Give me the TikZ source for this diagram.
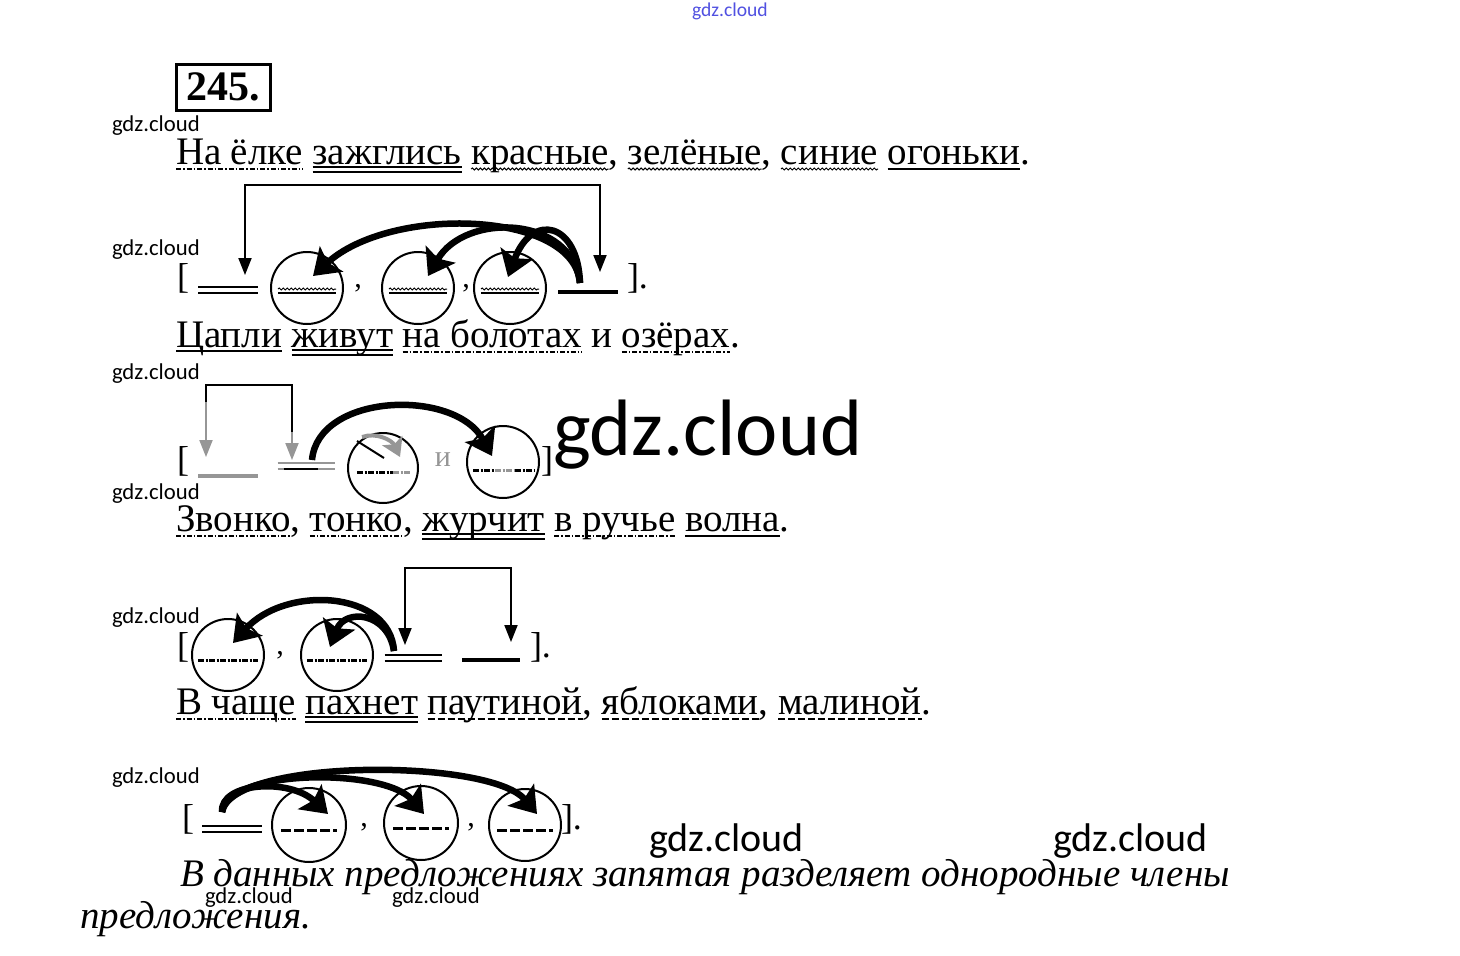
\documentclass[tikz,border=0pt]{standalone}
\usepackage{fontspec}
\setmainfont{Liberation Serif}
\newfontfamily\wmfont{Carlito}
\usetikzlibrary{arrows.meta,decorations.pathmorphing,calc}
\definecolor{wg}{RGB}{150,150,150}
\definecolor{wmblue}{RGB}{80,80,225}
\begin{document}
\begin{tikzpicture}[x=1pt,y=-1pt,
  w/.style={inner sep=0pt,outer sep=0pt,anchor=base west,font=\fontsize{39}{44}\selectfont},
  bk/.style={inner sep=0pt,outer sep=0pt,anchor=base west,font=\fontsize{36}{40}\selectfont},
  pn/.style={inner sep=0pt,outer sep=0pt,font=\fontsize{30}{34}\selectfont},
  wm/.style={inner sep=0pt,outer sep=0pt,anchor=base west,font=\wmfont\fontsize{22.7}{26}\selectfont},
  concl/.style={inner sep=0pt,outer sep=0pt,anchor=base west,font=\itshape\fontsize{39}{44}\selectfont},
  sym/.style={inner sep=0pt,outer sep=0pt,minimum height=6pt,minimum width=60pt},
  cir/.style={circle,draw,line width=2pt,inner sep=0pt,minimum size=72pt},
  sl/.style={line width=2.4pt},
  ssym/.style={line width=4.5pt},
  pl/.style={line width=1.8pt},
  attr/.style={line width=1pt,decorate,decoration={snake,amplitude=1pt,segment length=4pt}},
  adv/.style={line width=2.2pt,dash pattern=on 5pt off 2pt on 1.5pt off 2pt},
  cadv/.style={line width=3pt,dash pattern=on 6pt off 1.5pt on 2pt off 1.5pt},
  obj/.style={line width=2.4pt,dash pattern=on 7pt off 3pt},
  brk/.style={line width=2pt,{Triangle[length=17pt,width=13pt]}-{Triangle[length=17pt,width=13pt]}},
  tharr/.style={line width=6.5pt,-{Stealth[length=25pt,width=34pt,inset=5pt]}},
]
\useasboundingbox[fill=white] (0,0) rectangle (1460,956);

% watermarks
\node[wm,text=wmblue,font=\wmfont\fontsize{19.6}{22}\selectfont] (wm0) at (692,16) {gdz.cloud};
\node[wm] (wm1) at (112,131) {gdz.cloud};
\node[wm] (wm2) at (112,255) {gdz.cloud};
\node[wm] (wm3) at (112,379) {gdz.cloud};
\node[wm] (wm4) at (112,499) {gdz.cloud};
\node[wm] (wm5) at (112,623) {gdz.cloud};
\node[wm] (wm6) at (112,783) {gdz.cloud};
\node[wm] (wm7) at (205,903) {gdz.cloud};
\node[wm] (wm8) at (392,903) {gdz.cloud};
\node[wm,font=\wmfont\fontsize{40}{44}\selectfont] (wm9) at (649,851) {gdz.cloud};
\node[wm,font=\wmfont\fontsize{40}{44}\selectfont] (wm10) at (1053,851) {gdz.cloud};
\node[wm,font=\wmfont\fontsize{80}{88}\selectfont] (wmbig) at (553,455) {gdz.cloud};

% number
\node[draw,line width=3pt,inner sep=0pt,minimum width=94pt,minimum height=46pt,
      font=\bfseries\fontsize{42}{46}\selectfont] (num) at (223,87) {245.};

% ---------- sentence 1
\node[w] (a1) at (176,164) {На};
\node[w] (a2) at ([xshift=9.5pt]a1.base east) {ёлке};
\node[w] (a3) at ([xshift=9.5pt]a2.base east) {зажглись};
\node[w] (a4) at ([xshift=9.5pt]a3.base east) {красные};
\node[w] (a4c) at (a4.base east) {,};
\node[w] (a5) at ([xshift=9.5pt]a4c.base east) {зелёные};
\node[w] (a5c) at (a5.base east) {,};
\node[w] (a6) at ([xshift=9.5pt]a5c.base east) {синие};
\node[w] (a7) at ([xshift=9.5pt]a6.base east) {огоньки};
\node[w] (a7p) at (a7.base east) {.};
\draw[adv] ([yshift=-5pt]a1.base west) -- ([yshift=-5pt]a2.base east);
\draw[pl] ([yshift=-3pt]a3.base west) -- ([yshift=-3pt]a3.base east)
          ([yshift=-8pt]a3.base west) -- ([yshift=-8pt]a3.base east);
\draw[attr] ([yshift=-5pt]a4.base west) -- ([yshift=-5pt]a4.base east);
\draw[attr] ([yshift=-5pt]a5.base west) -- ([yshift=-5pt]a5.base east);
\draw[attr] ([yshift=-5pt]a6.base west) -- ([yshift=-5pt]a6.base east);
\draw[sl] ([yshift=-5pt]a7.base west) -- ([yshift=-5pt]a7.base east);

% ---------- scheme 1
\node[bk] (b1l) at (177,288) {[};
\node[sym] (p1) at (228,290) {};
\draw[pl] (p1.north west) -- (p1.north east) (p1.south west) -- (p1.south east);
\node[cir] (c11) at (307,288) {};
\node[pn] (k11) at (358,288) {,};
\node[cir] (c12) at (418,288) {};
\node[pn] (k12) at (466,288) {,};
\node[cir] (c13) at (510,288) {};
\node[sym] (s1) at (588,292) {};
\draw[ssym] (s1.west) -- (s1.east);
\node[bk] (b1r) at (627,288) {].};
\foreach \c in {c11,c12,c13}{
  \draw[attr] ([xshift=-29pt,yshift=-1pt]\c.center) -- ([xshift=29pt,yshift=-1pt]\c.center);
  \draw[line width=2pt] ([xshift=-29pt,yshift=-5pt]\c.center) -- ([xshift=29pt,yshift=-5pt]\c.center);
}
\coordinate (k1a) at ([xshift=17pt,yshift=12pt]p1.north);
\coordinate (k1b) at ([xshift=12pt,yshift=17pt]s1.north);
\draw[brk] (k1a) -- ++(0,-90) -| (k1b);
\coordinate (t1) at ([xshift=-8pt,yshift=6pt]s1.north);
\draw[tharr] (t1) .. controls (574,210) and (390,205) .. (313,276);
\draw[tharr] (t1) .. controls (572,215) and (465,212) .. (428,276);
\draw[tharr] (t1) .. controls (578,222) and (532,212) .. (508,277);

% ---------- sentence 2
\node[w] (b1) at (176,347) {Цапли};
\node[w] (b2) at ([xshift=9.5pt]b1.base east) {живут};
\node[w] (b3) at ([xshift=9.5pt]b2.base east) {на};
\node[w] (b4) at ([xshift=9.5pt]b3.base east) {болотах};
\node[w] (b5) at ([xshift=9.5pt]b4.base east) {и};
\node[w] (b6) at ([xshift=9.5pt]b5.base east) {озёрах};
\node[w] (b6p) at (b6.base east) {.};
\draw[sl] ([yshift=-4pt]b1.base west) -- ([yshift=-4pt]b1.base east);
\draw[pl] ([yshift=-3pt]b2.base west) -- ([yshift=-3pt]b2.base east)
          ([yshift=-8pt]b2.base west) -- ([yshift=-8pt]b2.base east);
\draw[adv] ([yshift=-5pt]b3.base west) -- ([yshift=-5pt]b4.base east);
\draw[adv] ([yshift=-5pt]b6.base west) -- ([yshift=-5pt]b6.base east);

% ---------- scheme 2
\node[bk] (b2l) at (177,471) {[};
\node[sym] (s2) at (228,476) {};
\draw[sl,draw=wg,line width=4pt] (s2.west) -- (s2.east);
\node[sym,minimum width=57pt] (p2) at (306,466) {};
\draw[pl,draw=wg] (p2.north west) -- (p2.north east) (p2.south west) -- (p2.south east);
\draw[pl,line width=2.4pt] ([xshift=6pt]p2.south west) -- ([xshift=40pt]p2.south west);
\node[cir,minimum size=70pt] (c21) at (383,468) {};
\node[pn,text=wg] (i2) at (443,460) {и};
\node[cir] (c22) at (503,462) {};
\node[bk] (b2r) at (541,471) {]};
\draw[cadv] ([xshift=-26pt,yshift=-4pt]c21.center) -- ([xshift=10pt,yshift=-4pt]c21.center);
\draw[cadv,draw=wg] ([xshift=10pt,yshift=-4pt]c21.center) -- ([xshift=28pt,yshift=-4pt]c21.center);
\draw[cadv] ([xshift=-30pt,yshift=-8pt]c22.center) -- ([xshift=-8pt,yshift=-8pt]c22.center);
\draw[cadv,draw=wg] ([xshift=-8pt,yshift=-8pt]c22.center) -- ([xshift=12pt,yshift=-8pt]c22.center);
\draw[cadv] ([xshift=12pt,yshift=-8pt]c22.center) -- ([xshift=31pt,yshift=-8pt]c22.center);
\coordinate (k2a) at ([xshift=-22pt,yshift=16pt]s2.north);
\coordinate (k2b) at ([xshift=-14pt,yshift=3pt]p2.north);
\draw[brk,color=wg] (k2a) -- ++(0,-72) -| (k2b);
\draw[line width=2pt] (206,402) -- (206,385) -- (292,385) -- (292,432);
\coordinate (t2) at ([xshift=6pt,yshift=3pt]p2.north);
\draw[tharr] (t2) .. controls (318,393) and (455,388) .. (492,456);
\draw[tharr,color=wg,line width=4pt,-{Stealth[length=18pt,width=22pt,inset=4pt]}] (362,437) .. controls (376,432) and (392,440) .. (400,457);
\draw[line width=2pt] (357,441) -- (384,458);

% ---------- sentence 3
\node[w] (d1) at (176,531) {Звонко};
\node[w] (d1c) at (d1.base east) {,};
\node[w] (d2) at ([xshift=9.5pt]d1c.base east) {тонко};
\node[w] (d2c) at (d2.base east) {,};
\node[w] (d3) at ([xshift=9.5pt]d2c.base east) {журчит};
\node[w] (d4) at ([xshift=9.5pt]d3.base east) {в};
\node[w] (d5) at ([xshift=9.5pt]d4.base east) {ручье};
\node[w] (d6) at ([xshift=9.5pt]d5.base east) {волна};
\node[w] (d6p) at (d6.base east) {.};
\draw[adv] ([yshift=-5pt]d1.base west) -- ([yshift=-5pt]d1.base east);
\draw[adv] ([yshift=-5pt]d2.base west) -- ([yshift=-5pt]d2.base east);
\draw[pl] ([yshift=-3pt]d3.base west) -- ([yshift=-3pt]d3.base east)
          ([yshift=-8pt]d3.base west) -- ([yshift=-8pt]d3.base east);
\draw[adv] ([yshift=-5pt]d4.base west) -- ([yshift=-5pt]d5.base east);
\draw[sl] ([yshift=-5pt]d6.base west) -- ([yshift=-5pt]d6.base east);

% ---------- scheme 3
\node[bk] (b3l) at (177,657) {[};
\node[cir] (c31) at (228,655) {};
\node[pn] (k31) at (280,655) {,};
\node[cir] (c32) at (337,655) {};
\node[sym,minimum width=57pt] (p3) at (413,658) {};
\draw[pl] (p3.north west) -- (p3.north east) (p3.south west) -- (p3.south east);
\node[sym,minimum width=58pt] (s3) at (491,660) {};
\draw[ssym] (s3.west) -- (s3.east);
\node[bk] (b3r) at (530,657) {].};
\foreach \c in {c31,c32}{
  \draw[cadv] ([xshift=-30pt,yshift=-5pt]\c.center) -- ([xshift=30pt,yshift=-5pt]\c.center);
}
\coordinate (k3a) at ([xshift=-8pt,yshift=10pt]p3.north);
\coordinate (k3b) at ([xshift=20pt,yshift=15pt]s3.north);
\draw[brk] (k3a) -- ++(0,-77) -| (k3b);
\coordinate (t3) at ([xshift=-19pt,yshift=4pt]p3.north);
\draw[tharr] (t3) .. controls (390,590) and (285,585) .. (233,643);
\draw[tharr] (t3) .. controls (388,612) and (345,608) .. (330,647);

% ---------- sentence 4
\node[w] (e1) at (176,714) {В};
\node[w] (e2) at ([xshift=9.5pt]e1.base east) {чаще};
\node[w] (e3) at ([xshift=9.5pt]e2.base east) {пахнет};
\node[w] (e4) at ([xshift=9.5pt]e3.base east) {паутиной};
\node[w] (e4c) at (e4.base east) {,};
\node[w] (e5) at ([xshift=9.5pt]e4c.base east) {яблоками};
\node[w] (e5c) at (e5.base east) {,};
\node[w] (e6) at ([xshift=9.5pt]e5c.base east) {малиной};
\node[w] (e6p) at (e6.base east) {.};
\draw[adv] ([yshift=-5pt]e1.base west) -- ([yshift=-5pt]e2.base east);
\draw[pl] ([yshift=-3pt]e3.base west) -- ([yshift=-3pt]e3.base east)
          ([yshift=-8pt]e3.base west) -- ([yshift=-8pt]e3.base east);
\draw[obj] ([yshift=-5pt]e4.base west) -- ([yshift=-5pt]e4.base east);
\draw[obj] ([yshift=-5pt]e5.base west) -- ([yshift=-5pt]e5.base east);
\draw[obj] ([yshift=-5pt]e6.base west) -- ([yshift=-5pt]e6.base east);

% ---------- scheme 4
\node[bk] (b4l) at (182,829) {[};
\node[sym] (p4) at (232,829) {};
\draw[pl] (p4.north west) -- (p4.north east) (p4.south west) -- (p4.south east);
\node[cir,minimum size=74pt] (c41) at (309,825) {};
\node[pn] (k41) at (364,827) {,};
\node[cir,minimum size=74pt] (c42) at (421,823) {};
\node[pn] (k42) at (471,827) {,};
\node[cir] (c43) at (525,825) {};
\node[bk] (b4r) at (561,829) {].};
\foreach \c in {c41,c42,c43}{
  \draw[obj,line width=3pt,dash pattern=on 10pt off 3pt] ([xshift=-28pt,yshift=-5pt]\c.center) -- ([xshift=28pt,yshift=-5pt]\c.center);
}
\coordinate (t4) at ([xshift=-10pt,yshift=14pt]p4.north);
\draw[tharr] (t4) .. controls (220,782) and (290,778) .. (328,814);
\draw[tharr] (t4) .. controls (228,768) and (385,768) .. (424,814);
\draw[tharr] (t4) .. controls (232,758) and (490,758) .. (537,814);

% ---------- conclusion
\node[concl] (f1) at (180,886) {В данных предложениях запятая разделяет однородные члены};
\node[concl] (f2) at (80,928) {предложения.};
\end{tikzpicture}
\end{document}
